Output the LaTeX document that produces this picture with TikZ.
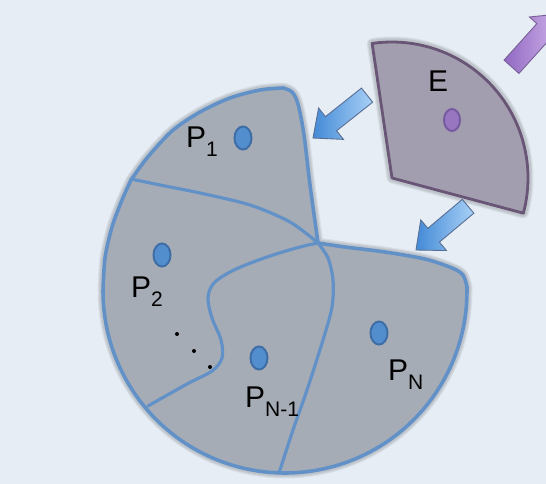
\documentclass[tikz,border=0pt]{standalone}
\usepackage{fontspec}
\setmainfont{Liberation Sans}
\usetikzlibrary{shapes.geometric}
\newcommand\psub[1]{\raisebox{-9pt}{\fontsize{21}{21}\selectfont #1}}
\newcommand\unionpath{plot[smooth, tension=0.5] coordinates {(283,88) (292,92) (298,104) (304,135) (310,185) (318,243)}
  -- plot[smooth, tension=0.5] coordinates {(318,243) (345,247) (385,252) (425,259) (452,268) (463,275) (467,287)}
  -- plot[smooth, domain=0:180, samples=50] ({285+182*cos(\x)},{291+182*sin(\x)})
  -- plot[smooth, tension=0.5] coordinates {(103,291) (105,258) (112,227) (122,200) (131,180)}
  -- plot[smooth, tension=0.5] coordinates {(131,180) (147,158) (172,131) (200,112) (230,98) (260,90) (283,88)}
  -- cycle}
\newcommand\esectorpath{(392,178) -- plot[smooth, domain=261.6:375, samples=40] ({392+136*cos(\x)},{178+136*sin(\x)}) -- cycle}
\definecolor{bg}{RGB}{230,237,245}
\definecolor{reg}{RGB}{166,172,181}
\definecolor{edge}{RGB}{98,145,200}
\definecolor{dotf}{RGB}{82,142,205}
\definecolor{dotb}{RGB}{62,110,165}
\definecolor{efill}{RGB}{162,157,175}
\definecolor{eedge}{RGB}{105,85,118}
\definecolor{edotf}{RGB}{152,118,192}
\definecolor{edotb}{RGB}{118,92,158}
\definecolor{arrdark}{RGB}{68,138,214}
\definecolor{arrlight}{RGB}{168,208,246}
\definecolor{arrbd}{RGB}{88,110,148}
\definecolor{purdark}{RGB}{145,105,195}
\definecolor{purlight}{RGB}{205,175,232}
\definecolor{purbd}{RGB}{120,95,150}
\tikzset{
  region/.style={fill=reg},
  border/.style={draw=edge, line width=3.6pt, line join=round},
  inner/.style={draw=edge, line width=3.2pt, line cap=round},
  softshadow/.style={draw=black, line width=#1, opacity=0.06, line join=round},
  pdot/.style={ellipse, draw=dotb, fill=dotf, line width=2pt, minimum width=17pt, minimum height=23pt, inner sep=0pt},
  edot/.style={ellipse, draw=edotb, fill=edotf, line width=2pt, minimum width=16pt, minimum height=22pt, inner sep=0pt},
  lbl/.style={anchor=base west, inner sep=0pt, font=\fontsize{30}{30}\selectfont},
  smalldot/.style={circle, fill=black, minimum size=4pt, inner sep=0pt},
  barrow/.style={left color=arrdark, right color=arrlight, draw=arrbd, line width=0.9pt, line join=miter},
  parrow/.style={left color=purdark, right color=purlight, draw=purbd, line width=0.9pt, line join=miter},
  esector/.style={fill=efill, draw=eedge, line width=2.8pt, line join=round}
}
\begin{document}
\begin{tikzpicture}[x=1pt,y=-1pt]
\fill[bg] (0,0) rectangle (546,484);
\useasboundingbox (0,0) rectangle (546,484);
\clip (0,0) rectangle (546,484);

% soft shadows
\foreach \w in {11,9,7} {
  \path[softshadow=\w pt] \unionpath;
  \path[softshadow=\w pt] \esectorpath;
}

% union of the partition pieces
\path[region, border] \unionpath;

% internal boundaries
\draw[inner] plot[smooth, tension=0.5] coordinates {(131,179) (165,186) (200,193) (250,205) (290,222) (318,243)};
\draw[inner] plot[smooth, tension=0.55] coordinates {(318,243) (300,247) (267,257) (234,270) (214,283) (208,298) (212,318) (221,340) (222,358) (212,371) (187,384) (148,406)};
\draw[inner] plot[smooth, tension=0.5] coordinates {(318,243) (328,258) (333,280) (332,307) (323,340) (307,390) (293,430) (279,473)};

% E sector
\path[esector] \esectorpath;

% dots
\node[pdot] (p1) at (243,138) {};
\node[pdot] (p2) at (162,255) {};
\node[pdot] (pn1) at (259,358) {};
\node[pdot] (pn) at (379,333) {};
\node[edot] (e) at (452,120) {};
\node[smalldot] (d1) at (177,334) {};
\node[smalldot] (d2) at (194,351) {};
\node[smalldot] (d3) at (210,367) {};

% labels
\node[lbl] (lp1) at (186,148) {P\psub{1}};
\node[lbl] (lp2) at (131,297) {P\psub{2}};
\node[lbl] (lpn1) at (245,407) {P\psub{N-1}};
\node[lbl] (lpn) at (388,380) {P\psub{N}};
\node[lbl] (le) at (428,92) {E};

% block arrows
\begin{scope}[shift={(313,138)}, rotate=218.4]
  \shade[barrow] (0,0) -- (-23,20) -- (-23,9) -- (-69,9) -- (-69,-9) -- (-23,-9) -- (-23,-20) -- cycle;
\end{scope}
\begin{scope}[shift={(416,250)}, rotate=220]
  \shade[barrow] (0,0) -- (-23,20) -- (-23,9) -- (-68,9) -- (-68,-9) -- (-23,-9) -- (-23,-20) -- cycle;
\end{scope}
\begin{scope}[shift={(559,14)}, rotate=48]
  \shade[parrow] (0,0) -- (-22,20) -- (-22,10) -- (-71,10) -- (-71,-10) -- (-22,-10) -- (-22,-20) -- cycle;
\end{scope}
\end{tikzpicture}
\end{document}
